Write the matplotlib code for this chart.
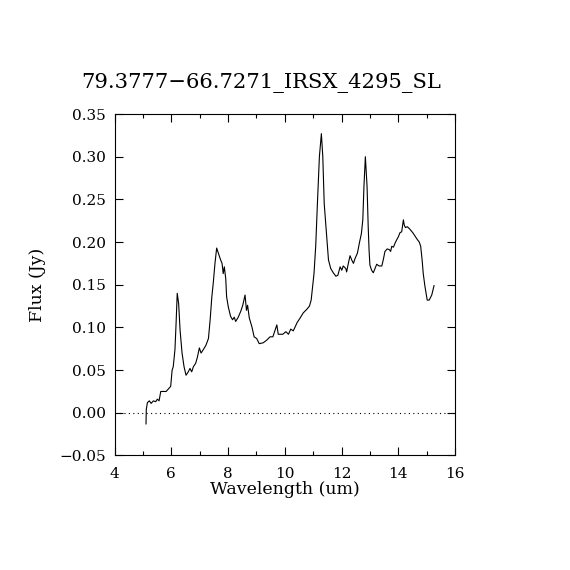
import numpy as np
import matplotlib
matplotlib.use("Agg")
import matplotlib.pyplot as plt
from matplotlib.ticker import MultipleLocator

# spectrum
wavelength = [5.11, 5.12, 5.16, 5.23, 5.29, 5.37, 5.45, 5.51, 5.57, 5.63, 5.82, 5.90, 5.98,
              6.03, 6.07, 6.13, 6.17, 6.21, 6.26, 6.31, 6.38, 6.45, 6.52, 6.60, 6.66, 6.72,
              6.78, 6.86, 6.92, 6.99, 7.05, 7.13, 7.22, 7.31, 7.37, 7.43, 7.48, 7.54, 7.60,
              7.66, 7.74, 7.79, 7.83, 7.87, 7.92, 7.95, 8.01, 8.09, 8.16, 8.22, 8.27, 8.36,
              8.45, 8.52, 8.60, 8.65, 8.69, 8.75, 8.84, 8.92, 9.01, 9.10, 9.24, 9.36, 9.48,
              9.58, 9.66, 9.72, 9.77, 9.93, 10.04, 10.13, 10.21, 10.30, 10.44, 10.54, 10.65,
              10.77, 10.87, 10.93, 10.97, 11.03, 11.09, 11.15, 11.22, 11.29, 11.34, 11.39,
              11.48, 11.54, 11.62, 11.71, 11.80, 11.87, 11.95, 12.01, 12.06, 12.15, 12.18,
              12.24, 12.30, 12.36, 12.42, 12.48, 12.56, 12.63, 12.70, 12.75, 12.79, 12.84,
              12.90, 12.94, 12.97, 13.00, 13.06, 13.12, 13.18, 13.24, 13.32, 13.42, 13.47,
              13.53, 13.61, 13.69, 13.73, 13.77, 13.83, 13.89, 13.95, 14.00, 14.06, 14.12,
              14.18, 14.21, 14.25, 14.32, 14.41, 14.51, 14.59, 14.67, 14.74, 14.79, 14.84,
              14.88, 14.94, 15.02, 15.09, 15.18, 15.26]
flux = [-0.013, 0.004, 0.012, 0.014, 0.011, 0.014, 0.013, 0.016, 0.014, 0.025, 0.025, 0.028,
        0.031, 0.050, 0.054, 0.074, 0.105, 0.140, 0.128, 0.097, 0.070, 0.054, 0.044, 0.048,
        0.052, 0.048, 0.054, 0.058, 0.065, 0.076, 0.070, 0.074, 0.079, 0.087, 0.109, 0.136,
        0.152, 0.175, 0.193, 0.187, 0.179, 0.175, 0.163, 0.171, 0.157, 0.136, 0.124, 0.113,
        0.109, 0.112, 0.107, 0.112, 0.119, 0.126, 0.138, 0.120, 0.126, 0.111, 0.101, 0.089,
        0.087, 0.081, 0.082, 0.085, 0.089, 0.089, 0.097, 0.103, 0.092, 0.092, 0.095, 0.092,
        0.098, 0.096, 0.106, 0.111, 0.117, 0.121, 0.125, 0.132, 0.144, 0.163, 0.195, 0.245,
        0.300, 0.327, 0.300, 0.245, 0.206, 0.179, 0.169, 0.164, 0.160, 0.161, 0.171, 0.167,
        0.172, 0.169, 0.165, 0.175, 0.184, 0.179, 0.175, 0.181, 0.187, 0.199, 0.210, 0.226,
        0.265, 0.300, 0.265, 0.218, 0.191, 0.173, 0.167, 0.164, 0.169, 0.174, 0.172, 0.172,
        0.179, 0.189, 0.192, 0.191, 0.189, 0.195, 0.194, 0.199, 0.203, 0.206, 0.211, 0.212,
        0.226, 0.220, 0.217, 0.218, 0.215, 0.211, 0.207, 0.203, 0.200, 0.195, 0.179, 0.163,
        0.148, 0.132, 0.132, 0.138, 0.149]

title = "79.3777\u221266.7271_IRSX_4295_SL"

plt.rcParams["font.family"] = ["DejaVu Serif"]

fig = plt.figure(figsize=(5.7, 5.7), dpi=100)
ax = fig.add_axes([0.2009, 0.2009, 0.5974, 0.5991])

ax.plot(wavelength, flux, color="black", linewidth=0.8)
ax.axhline(0, color="black", linestyle=(0, (1, 3)), linewidth=0.8)

ax.set_xlim(4, 16)
ax.set_ylim(-0.05, 0.35)
ax.xaxis.set_major_locator(MultipleLocator(2))
ax.xaxis.set_minor_locator(MultipleLocator(1))
ax.yaxis.set_major_locator(MultipleLocator(0.05))
ax.yaxis.set_major_formatter(plt.FuncFormatter(lambda v, p: f"{v:.2f}".replace("-", "\u2212")))
ax.tick_params(which="both", direction="in", top=True, right=True, labelsize=11, width=0.8)
ax.tick_params(which="major", length=6)
ax.tick_params(which="minor", length=3)
ax.tick_params(axis="x", pad=8)
ax.tick_params(axis="y", pad=6)
for s in ax.spines.values():
    s.set_linewidth(0.8)

# title sits a bit left of the axes centre, as in the reference
fig.text(0.458, 0.854, title, fontsize=15.2, ha="center", va="center")
ax.set_xlabel("Wavelength (um)", fontsize=12.5, labelpad=0)
ax.set_ylabel("Flux (Jy)", fontsize=12.5, labelpad=10)

fig.savefig("out.png", dpi=100)
